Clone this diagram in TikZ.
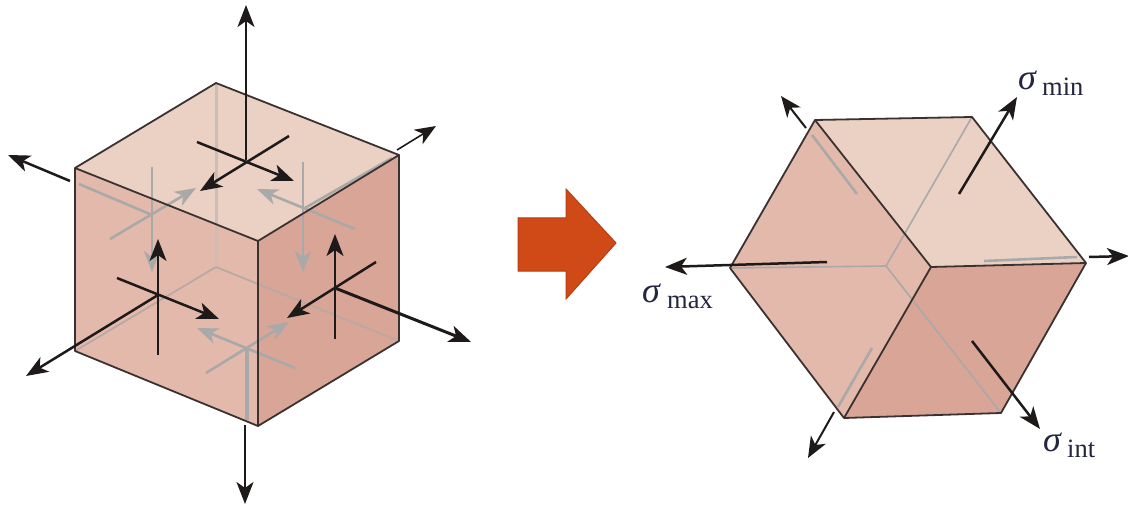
\documentclass[tikz,border=0pt]{standalone}
\usepackage{fontspec}
\setmainfont{Liberation Serif}
\usetikzlibrary{arrows.meta}
\definecolor{topface}{HTML}{EBD0C4}
\definecolor{leftface}{HTML}{E3B9AC}
\definecolor{rightface}{HTML}{D9A596}
\definecolor{hid}{HTML}{A9A9A9}
\definecolor{hidpale}{HTML}{CDBDB6}
\definecolor{hidline}{HTML}{B9A8A4}
\definecolor{edge}{HTML}{3A3230}
\definecolor{blk}{HTML}{1E1A1A}
\definecolor{bigarrow}{HTML}{D04A17}
\definecolor{bigedge}{HTML}{B53E12}
\definecolor{labelc}{HTML}{23263F}
\tikzset{
  x=1pt,y=-1pt,
  face/.style={draw=edge,line width=1.8pt,line join=round},
  blackline/.style={draw=blk,line width=2.5pt},
  blackarrow/.style={blackline,-{Stealth[length=22pt,width=17pt,inset=6pt]}},
  thinarrow/.style={draw=blk,line width=2pt,-{Stealth[length=21pt,width=17pt,inset=6pt]}},
  greyline/.style={draw=hid,line width=2.6pt},
  greyarrow/.style={greyline,-{Stealth[length=21pt,width=16pt,inset=6pt]}},
  hiddenedge/.style={draw=hidline,line width=1.8pt},
  sig/.style={text=labelc,inner sep=0pt,anchor=base west}
}
\newcommand{\siglabel}[2]{\makebox[#1pt][l]{\fontsize{36}{38}\selectfont\itshape σ}{\fontsize{26.5}{28}\selectfont\raisebox{-6pt}{#2}}}
\begin{document}
\begin{tikzpicture}
\useasboundingbox (0,0) rectangle (1128,508);
\fill[white] (0,0) rectangle (1128,508);
% ---- left cube
\coordinate (tb) at (216,83); \coordinate (tl) at (75,168); \coordinate (tr) at (399,155);
\coordinate (tf) at (258,241); \coordinate (bf) at (258,426); \coordinate (bl) at (75,351);
\coordinate (br) at (399,341); \coordinate (bb) at (216,267);
\fill[topface] (tb)--(tr)--(tf)--(tl)--cycle;
\fill[leftface] (tl)--(tf)--(bf)--(bl)--cycle;
\fill[rightface] (tf)--(tr)--(br)--(bf)--cycle;
% hidden edges
\draw[draw=hidpale,line width=3pt] (tb)--(bb);
\draw[hiddenedge] (bb)--(bl);
\draw[hiddenedge] (bb)--(br);
% hidden crosses
\draw[greyline] (79,184)--(152,215);
\draw[greyarrow] (110,239)--(196,188);
\draw[greyarrow] (152,167)--(152,272);
\draw[greyline] (305,208)--(392,158);
\draw[greyarrow] (355,229)--(257,189);
\draw[greyarrow] (303,162)--(303,272);
\draw[greyline,line width=3.4pt] (247,347)--(247,420);
\draw[greyarrow] (295,368)--(197,328);
\draw[greyarrow] (206,373)--(289,322);
% edges
\draw[face] (tb)--(tr)--(tf)--(tl)--cycle;
\draw[face] (tl)--(bl)--(bf)--(br)--(tr);
\draw[face,line width=2.2pt] (tf)--(bf);
% black forces
\draw[blackarrow] (246,160)--(246,5);
\draw[blackarrow] (197,142)--(294,181);
\draw[blackarrow] (289,136)--(200,191);
\draw[thinarrow,line width=1.6pt] (397,150)--(436,126);
\draw[blackarrow] (70,181)--(8,155);
\draw[blackarrow] (158,295)--(26,376);
\draw[blackarrow] (158,355)--(158,239);
\draw[blackarrow] (117,278)--(219,319);
\draw[blackarrow] (335,339)--(335,234);
\draw[blackarrow] (376,262)--(287,318);
\draw[blackarrow,line width=3pt] (335,288)--(471,342);
\draw[blackarrow] (245,425)--(245,504);
% ---- big arrow
\draw[fill=bigarrow,draw=bigedge,line width=1pt,line join=miter] (518,218)--(566,218)--(566,189)--(616,243)--(566,299)--(566,271)--(518,271)--cycle;
% ---- right solid
\coordinate (A) at (815,120); \coordinate (B) at (972,117); \coordinate (C) at (1086,263);
\coordinate (D) at (931,267); \coordinate (E) at (1001,413); \coordinate (F) at (844,418);
\coordinate (G) at (730,268); \coordinate (H) at (886,266);
\fill[topface] (A)--(B)--(C)--(D)--cycle;
\fill[leftface] (A)--(D)--(F)--(G)--cycle;
\fill[rightface] (D)--(C)--(E)--(F)--cycle;
\draw[hid,line width=1.6pt] (H)--(B);
\draw[hid,line width=1.6pt] (H)--(G);
\draw[hid,line width=1.6pt] (H)--(E);
\draw[greyline] (812,135)--(857,194);
\draw[greyline] (984,261)--(1077,257);
\draw[greyline] (872,348)--(838,407);
\draw[face] (A)--(B)--(C)--(E)--(F)--(G)--cycle;
\draw[face] (A)--(D)--(C);
\draw[face] (D)--(F);
\draw[blackarrow] (959,194)--(1017,97);
\draw[thinarrow] (806,128)--(781,96);
\draw[blackarrow] (1089,257)--(1129,256);
\draw[blackarrow] (827,262)--(665,267);
\draw[blackarrow] (972,341)--(1040,429);
\draw[thinarrow] (834,412)--(808,458);
% labels
\node[sig] (smin) at (1018,90) {\siglabel{24}{min}};
\node[sig] (smax) at (642,302) {\siglabel{25}{max}};
\node[sig] (sint) at (1043,451) {\siglabel{24}{int}};
\end{tikzpicture}
\end{document}
